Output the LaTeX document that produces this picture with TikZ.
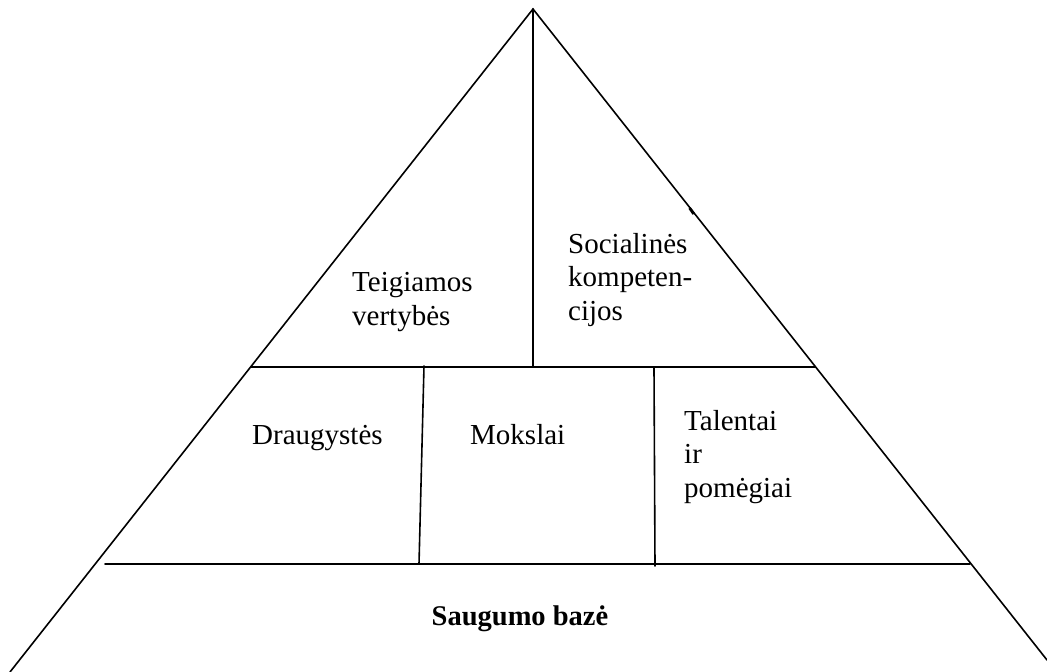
\documentclass[tikz,border=0pt]{standalone}
\usepackage{fontspec}
\setmainfont{Liberation Serif}
\begin{document}
\begin{tikzpicture}[x=1pt,y=-1pt,
  edge/.style={line width=1.6pt, line cap=round},
  label/.style={inner sep=0pt, anchor=base west, align=left,
    font=\fontsize{29}{33.5}\selectfont},
  basetext/.style={inner sep=0pt, anchor=base,
    font=\fontsize{28.5}{33.5}\selectfont\bfseries}]
  \useasboundingbox (0,0) rectangle (1047,672);

  % pyramid corners and partition points
  \coordinate (apex) at (533,9);
  \coordinate (bl) at (10,672);
  \coordinate (br) at (1047,660);
  \coordinate (midL) at (251,367);
  \coordinate (midR) at (815,367);
  \coordinate (midC) at (533,367);
  \coordinate (lowL) at (105,564);
  \coordinate (lowR) at (970,564);
  \coordinate (d1t) at (424,366);
  \coordinate (d1b) at (419,564);
  \coordinate (d2t) at (654,368);
  \coordinate (d2b) at (655,566);

  % outline and inner partitions
  \draw[edge] (bl) -- (apex) -- (br);
  \draw[edge] (apex) -- (midC);
  \draw[edge] (midL) -- (midR);
  \draw[edge] (lowL) -- (lowR);
  \draw[edge] (d1t) -- (d1b);
  \draw[edge] (d2t) -- (d2b);
  % small pen thickening on the right side
  \coordinate (tk1) at (689.6,208);
  \coordinate (tk2) at (693.8,214);
  \draw[line width=2.8pt] (tk1) -- (tk2);

  % level labels (anchored at the baseline of their last line)
  \node[label] (teig) at (352,325) {Teigiamos\\vertybės};
  \node[label] (soc) at (568,320) {Socialinės\\kompeten-\\cijos};
  \node[label] (drau) at (252,444) {Draugystės};
  \node[label] (moks) at (470,444) {Mokslai};
  \node[label] (tal) at (684,497) {Talentai\\ir\\pomėgiai};
  \node[basetext] (baze) at (520,625) {Saugumo bazė};
\end{tikzpicture}
\end{document}
